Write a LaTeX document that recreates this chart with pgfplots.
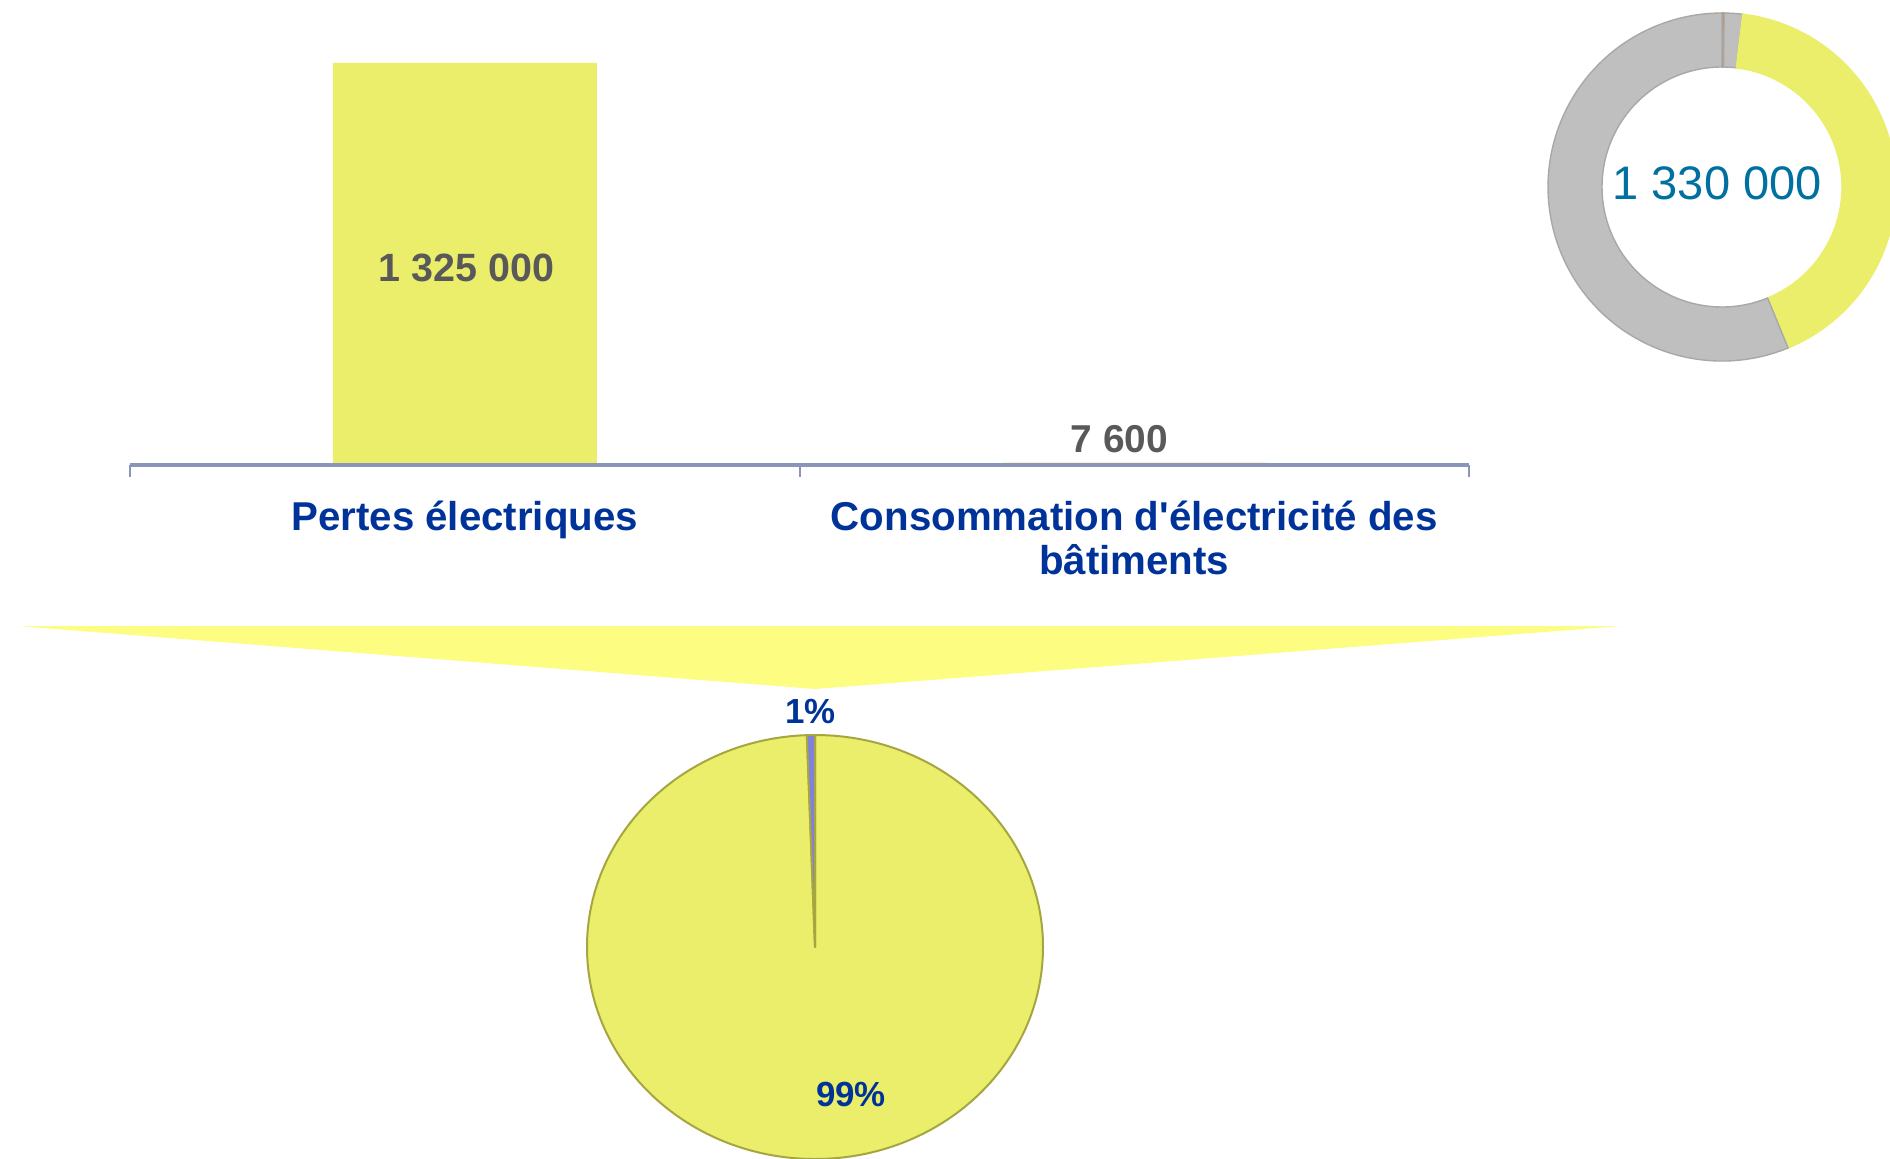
\documentclass[border=0pt]{standalone}
\usepackage{pgfplots}
\pgfplotsset{compat=1.18}
\usepackage{pgfplotstable}
\usepackage{fontspec}
\setmainfont{Liberation Sans}

\definecolor{baryel}{RGB}{235,238,106}
\definecolor{funyel}{RGB}{253,253,130}
\definecolor{pieedge}{RGB}{166,166,64}
\definecolor{piepur}{RGB}{128,128,224}
\definecolor{dgray}{RGB}{191,191,191}
\definecolor{dgrayedge}{RGB}{168,168,168}
\definecolor{dorange}{RGB}{197,120,50}
\definecolor{axisc}{RGB}{137,150,185}
\definecolor{catblue}{RGB}{0,51,153}
\definecolor{labgray}{RGB}{89,89,89}
\definecolor{donutblue}{RGB}{0,112,160}

% bar data
\pgfplotstableread{
x y
0 1325000
1 7600
}\bardata

% pie data (same two series)
\def\pieA{1325000}
\def\pieB{7600}
\edef\pb{\fpeval{round(90-360*\pieA/(\pieA+\pieB),4)}}

% donut shares (percent)
\def\dOne{0.2}
\def\dTwo{1.7}
\def\dThree{41.9}
\def\dFour{56.2}
\edef\da{\fpeval{round(90-3.6*\dOne,4)}}
\edef\db{\fpeval{round(\da-3.6*\dTwo,4)}}
\edef\dc{\fpeval{round(\db-3.6*\dThree,4)}}

\newcommand\ring[4]{%
  \filldraw[fill=#1, draw=#2, line width=0.35bp] (axis cs:0,0) ++(#3:43.5bp)
    arc[start angle=#3, end angle=#4, radius=43.5bp] -- ++({#4+180}:13.5bp)
    arc[start angle=#4, end angle=#3, radius=30bp] -- cycle;}

\begin{document}
\begin{tikzpicture}
\path[use as bounding box] (0,0) rectangle (472.5bp,-289.75bp);
\fill[white] (0,0) rectangle (472.5bp,-289.75bp);

% funnel
\fill[funyel] (4.5bp,-156.5bp) -- (405.25bp,-156.5bp) -- (203.75bp,-172.25bp) -- cycle;

% main bar chart
\begin{axis}[
  at={(32.5bp,-116.25bp)}, anchor=south west,
  scale only axis, width=334.75bp, height=106.2bp,
  xmin=-0.5, xmax=1.5, ymin=0, ymax=1400000,
  axis on top,
  axis x line=bottom, axis y line=none,
  x axis line style={-, line width=0.8bp, draw=axisc},
  xtick={0,1}, major tick length=0pt,
  xticklabels={Pertes électriques, {Consommation d\textquotesingle électricité des\\bâtiments}},
  xticklabel style={font=\bfseries\fontsize{10.1}{11}\selectfont, text=catblue, align=center, yshift=-5.5bp},
  extra x ticks={-0.5,0.5,1.5}, extra x tick labels={},
  extra x tick style={major tick length=3bp, tick align=outside, tick style={line width=0.5bp, draw=axisc}},
  ytick=\empty, clip=false,
]
\addplot[ybar, bar width=66bp, fill=baryel, draw=none, bar shift=0pt] table[x=x, y=y] {\bardata};
\node[font=\bfseries\fontsize{9.9}{10}\selectfont, text=labgray] at (axis cs:0,662500) [yshift=-0.9bp, xshift=0.4bp] {1 325 000};
\node[font=\bfseries\fontsize{9.75}{10}\selectfont, text=labgray] at (axis cs:1,7600) [yshift=6bp, xshift=-3.75bp] {7 600};
\end{axis}

% donut
\begin{axis}[
  at={(430.5bp,-46.75bp)}, anchor=center,
  scale only axis, width=87bp, height=87bp,
  xmin=-1, xmax=1, ymin=-1, ymax=1, hide axis, clip=false,
]
\ring{dgray}{dorange}{90}{\da}
\ring{dgray}{dgrayedge}{\da}{\db}
\ring{baryel}{baryel}{\db}{\dc}
\ring{dgray}{dgrayedge}{\dc}{-270}
\node[font=\fontsize{11.8}{12}\selectfont, text=donutblue] at (axis cs:0,0) [xshift=-1.2bp, yshift=1bp] {1 330 000};
\end{axis}

% pie
\begin{axis}[
  at={(203.75bp,-236.75bp)}, anchor=center,
  scale only axis, width=114bp, height=106bp,
  xmin=-1, xmax=1, ymin=-1, ymax=1, hide axis, clip=false,
]
\filldraw[fill=baryel, draw=pieedge, line width=0.5bp, line join=round] (axis cs:0,0) -- ++(90:57bp and 53bp)
  arc[start angle=90, end angle=\pb, x radius=57bp, y radius=53bp] -- cycle;
\filldraw[fill=piepur, draw=pieedge, line width=0.5bp, line join=round] (axis cs:0,0) -- ++(\pb:57bp and 53bp)
  arc[start angle=\pb, end angle=-270, x radius=57bp, y radius=53bp] -- cycle;
\node[font=\bfseries\fontsize{8.75}{9}\selectfont, text=catblue] at (axis cs:-0.02,1.113) {1\%};
\node[font=\bfseries\fontsize{8.75}{9}\selectfont, text=catblue] at (axis cs:0.158,-0.698) {99\%};
\end{axis}
\end{tikzpicture}
\end{document}
